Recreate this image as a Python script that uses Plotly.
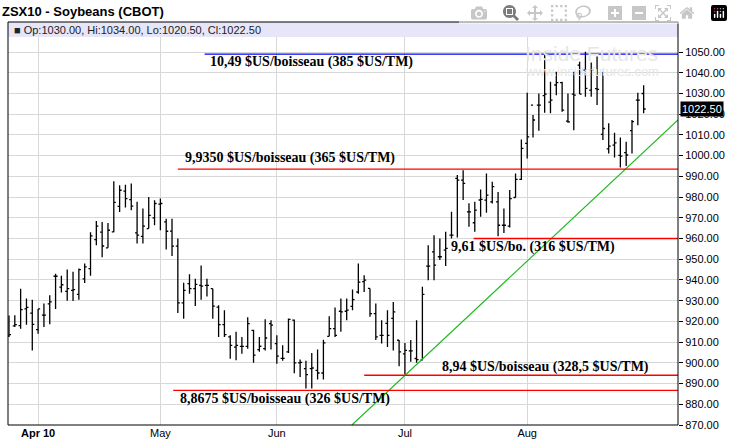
import plotly.graph_objects as go

# OHLC data (trading days Mar 25 2010 .. Aug 30 2010)
opens = [913, 917.8, 918, 926, 924, 916, 923, 928.5, 941.8, 936.5, 934.5, 935, 933, 940.5, 945.5, 959.5, 963.1, 955.5, 963.2, 975.5, 982.9, 978.8,
         962.7, 961, 964.8, 970, 976.6, 968, 963.6, 956.3, 928.9, 938.2, 935.8, 937.4, 937.4, 935.8, 926.9, 918.4, 912.5, 907.6, 907.9, 907.9,
         915.7, 906.4, 906.9, 918.9, 909.3, 902.2, 905.3, 920.6, 900, 897.2, 897.2, 896.4, 895.1, 912.8, 916.5, 924.9, 924.9, 927.3, 934.2, 939.2,
         935.9, 923.8, 913.3, 919, 921.5, 910.9, 904.3, 905.8, 902.1, 901.3, 946.7, 953.6, 951.2, 954.4, 961.6, 989, 988.2, 972.9, 967.6, 978.6,
         978.5, 977.7, 977.7, 966.4, 966, 979.8, 988.5, 1005.9, 1024.4, 1024.4, 1029, 1025.8, 1034.1, 1035.2, 1016.7, 1029.7, 1043.7, 1041.3, 1031.6, 1032.3,
         1010.3, 1003.3, 1005.1, 1000.1, 1001.5, 1012.1, 1026.8, 1030]
highs = [922.9, 923, 935.8, 931, 930.5, 926, 928.6, 932.6, 943, 942, 945, 944, 945.5, 948, 963, 968.5, 968, 967.5, 987.7, 985.7, 986, 986.5,
         977.7, 974.5, 980, 978.5, 979.3, 969.6, 969.6, 960, 938.6, 942.7, 940.6, 947, 940.6, 935.8, 927.8, 925.4, 913.3, 915, 912.5, 922,
         916, 912.5, 921, 920.6, 913.3, 908.5, 921.4, 920.9, 901.6, 901, 904.8, 906.4, 911.2, 922.5, 926.7, 931, 931, 935.4, 948, 942.3,
         935.9, 928.6, 920.6, 925.4, 929.4, 911, 909.6, 911, 920.6, 936.7, 956.8, 961.6, 960, 963.3, 972.9, 990.6, 993, 977, 977.7, 983.7,
         991.4, 987.4, 982.5, 974.5, 983.4, 991.4, 1007.8, 1030.4, 1019.6, 1030, 1050.2, 1035.7, 1040.5, 1035.7, 1030, 1040.5, 1045.3, 1050.2, 1044.9, 1047.8,
         1040.5, 1015.6, 1011, 1008.8, 1006.7, 1017.2, 1030.4, 1034]
lows = [912.5, 917.3, 916.5, 918.4, 906, 914, 917.3, 918.6, 926, 934, 930, 929.9, 930.5, 938.5, 942, 956.7, 951, 955.5, 963, 972.8, 975, 973.6,
        957.6, 957.6, 964.8, 966.4, 964, 954.7, 951.6, 924, 921.3, 933.4, 927.4, 930.5, 932, 921.3, 912.5, 912.5, 902, 901.2, 904.4, 906.8,
        900, 905.3, 906, 906.4, 899.6, 901, 904.8, 895, 893.2, 887.6, 887.6, 891.9, 891.9, 912.8, 912.5, 915, 920.6, 925.4, 933.4, 934.2,
        922.2, 911, 909.3, 907.7, 906, 898.4, 894.5, 900.5, 900, 901.3, 939.9, 939.9, 949.6, 946.7, 960, 960.5, 978.6, 965.7, 963.3, 970.5,
        972.4, 976.9, 961.1, 962.7, 965.3, 979.8, 988.2, 998.6, 1008.8, 1012, 1020.7, 1020.4, 1029.2, 1021.2, 1015.9, 1012.3, 1029.7, 1028.4, 1028.4, 1024.4,
        1007.5, 1001, 999.1, 994.3, 995, 1001, 1014.7, 1020.5]
closes = [913.6, 918.4, 925.7, 926.8, 918.6, 926, 923, 929.4, 941.8, 937.7, 935.8, 935.3, 945, 946.3, 961.3, 966, 956.4, 964, 977.4, 983.3, 979.3, 975.6,
          961.6, 966, 971.2, 976.9, 976.9, 963.5, 956.3, 928.9, 935, 935.8, 937.9, 937, 937.4, 927.4, 918.4, 913.6, 908.4, 908.4, 907.9, 918.9,
          903.7, 908, 912, 918.2, 903.2, 902.2, 921, 900, 900.2, 894.3, 897.5, 895.1, 909.6, 916.5, 913.3, 924.6, 925.4, 930.5, 939, 939.9,
          923.8, 912.5, 913.3, 913.3, 924.6, 905.3, 906, 905.8, 901.6, 933, 946.7, 947.2, 951.2, 955.2, 961.6, 988.2, 986.6, 972.9, 973.7, 978.9,
          980.9, 985, 966.4, 966.4, 979.3, 988.5, 1003.5, 1009.1, 1017.2, 1024.4, 1029.7, 1026.8, 1035.2, 1022, 1016.3, 1029.2, 1029.7, 1032.5, 1041.3, 1032,
          1013.1, 1004.6, 1006.2, 999.8, 1000.3, 1016.4, 1026.8, 1022.5]

month_tick_pos = [5, 26, 46, 68, 89]
month_tick_text = ["<b>Apr 10</b>", "May", "Jun", "Jul", "Aug"]
y_ticks = [870, 880, 890, 900, 910, 920, 930, 940, 950, 960, 970, 980, 990, 1000, 1010, 1020, 1030, 1040, 1050]

levels = [1049, 993.5, 960, 894, 886.75]
level_start = [33.6, 29, 79.8, 61, 28.2]
level_colors = ["#0000ff", "#ff0000", "#ff0000", "#ff0000", "#ff0000"]
labels = ["10,49 $US/boisseau (385 $US/TM)", "9,9350 $US/boisseau (365 $US/TM)", "9,61 $US/bo. (316 $US/TM)",
          "8,94 $US/boisseau (328,5 $US/TM)", "8,8675 $US/boisseau (326 $US/TM)"]
label_x = [34.1, 29.8, 75.6, 74.1, 29.0]
label_y = [1045, 998.8, 955.8, 897.8, 882.4]
trend_x = [58.9, 114.9]
trend_y = [870, 1017.2]

n = len(closes)
x = list(range(n))
XMIN, XMAX = -0.17, 114.9
YMIN, YMAX = 870, 1064.5

fig = go.Figure()
fig.add_trace(go.Ohlc(x=x, open=opens, high=highs, low=lows, close=closes,
                      increasing=dict(line=dict(color="black", width=1.3)),
                      decreasing=dict(line=dict(color="black", width=1.3)),
                      tickwidth=0.35, showlegend=False, hoverinfo="skip"))
fig.add_trace(go.Scatter(x=trend_x, y=trend_y, mode="lines", line=dict(color="#22bb22", width=1.2),
                         showlegend=False, hoverinfo="skip"))

shapes = []
for lv, xs, c in zip(levels, level_start, level_colors):
    shapes.append(dict(type="line", xref="x", yref="y", x0=xs, x1=XMAX, y0=lv, y1=lv,
                       line=dict(color=c, width=1.3)))
shapes.append(dict(type="rect", xref="paper", yref="paper", x0=0, x1=1, y0=1 - 15 / 403, y1=1,
                   fillcolor="#e6e6f8", line=dict(width=0), layer="above"))
shapes.append(dict(type="rect", xref="paper", yref="paper", x0=0, x1=1, y0=0, y1=1,
                   line=dict(color="black", width=1), layer="above"))

ann = []
ann.append(dict(x=88.3, y=1049.5, xref="x", yref="y", text="Inside Futures", showarrow=False,
                xanchor="left", yanchor="middle", font=dict(family="Arial", size=21, color="#e6e6e6")))
ann.append(dict(x=88.3, y=1040.5, xref="x", yref="y", text="www.insidefutures.com", showarrow=False,
                xanchor="left", yanchor="middle", font=dict(family="Arial", size=13, color="#e6e6e6")))
for t, lx, ly in zip(labels, label_x, label_y):
    ann.append(dict(x=lx, y=ly, xref="x", yref="y", text="<b>" + t + "</b>", showarrow=False,
                    xanchor="left", yanchor="middle",
                    font=dict(family="Liberation Serif", size=14, color="black")))
ann.append(dict(x=0.006, y=1 - 7.5 / 403, xref="paper", yref="paper",
                text="■ Op:%.2f, Hi:%.2f, Lo:%.2f, Cl:%.2f" % (opens[-1], highs[-1], lows[-1], closes[-1]),
                showarrow=False, xanchor="left", yanchor="middle",
                font=dict(family="Arial", size=11, color="#222")))
ann.append(dict(x=1.003, y=closes[-1], xref="paper", yref="y", text="%.2f" % closes[-1], showarrow=False,
                xanchor="left", yanchor="middle", bgcolor="black", borderpad=1,
                font=dict(family="Arial", size=11, color="white")))
ann.append(dict(x=-8 / 679, y=1 + 10 / 403, xref="paper", yref="paper", text="<b>ZSX10 - Soybeans (CBOT)</b>",
                showarrow=False, xanchor="left", yanchor="middle",
                font=dict(family="Arial", size=13, color="black")))

fig.update_layout(
    width=733, height=448, margin=dict(l=8, r=46, t=22, b=23),
    paper_bgcolor="white", plot_bgcolor="white",
    shapes=shapes, annotations=ann,
    xaxis=dict(range=[XMIN, XMAX], tickvals=month_tick_pos, ticktext=month_tick_text,
               showgrid=True, gridcolor="#d8d8d8", gridwidth=1, zeroline=False,
               rangeslider=dict(visible=False), ticks="", showline=False,
               tickfont=dict(family="Arial", size=11, color="black")),
    yaxis=dict(range=[YMIN, YMAX], side="right", tickvals=y_ticks, tickformat=".2f",
               showgrid=True, gridcolor="#d8d8d8", gridwidth=1, zeroline=False,
               ticks="outside", ticklen=4, tickcolor="black", showline=False,
               tickfont=dict(family="Arial", size=11, color="black")),
)
fig.write_html("out.html")

# remove default page margin so the figure fills the window exactly
with open("out.html", "r", encoding="utf-8") as f:
    html = f.read()
html = html.replace("<head>", "<head><style>body{margin:0;}</style>", 1)
with open("out.html", "w", encoding="utf-8") as f:
    f.write(html)
